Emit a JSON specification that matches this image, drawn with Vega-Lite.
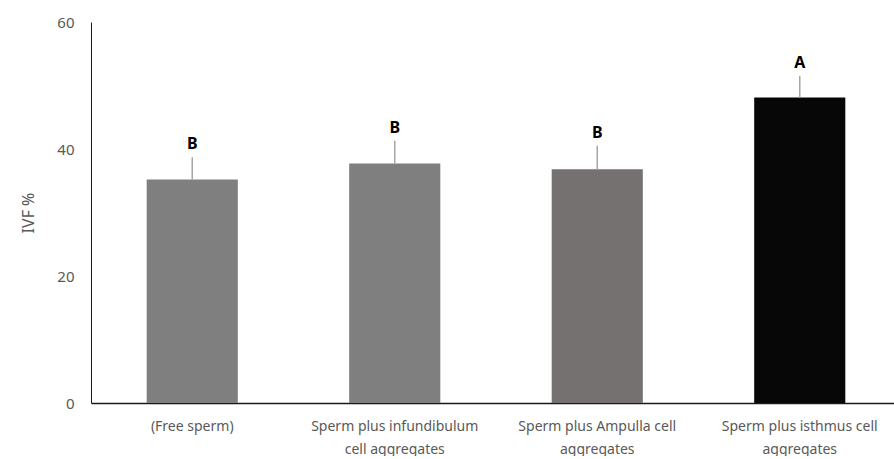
{
  "$schema": "https://vega.github.io/schema/vega-lite/v6.json",
  "width": 810,
  "height": 381,
  "padding": {"left": 20, "top": 15, "right": 0, "bottom": 0},
  "autosize": {"type": "pad"},
  "background": "white",
  "config": {
    "view": {"stroke": null},
    "font": "Noto Sans"
  },
  "data": {
    "values": [
      {"group": "(Free sperm)", "ivf": 35.2, "upper": 38.7, "letter": "B"},
      {"group": "Sperm plus infundibulum|cell aggregates", "ivf": 37.7, "upper": 41.3, "letter": "B"},
      {"group": "Sperm plus Ampulla cell|aggregates", "ivf": 36.8, "upper": 40.5, "letter": "B"},
      {"group": "Sperm plus isthmus cell|aggregates", "ivf": 48.1, "upper": 51.5, "letter": "A"}
    ]
  },
  "encoding": {
    "x": {
      "field": "group",
      "type": "nominal",
      "sort": null,
      "scale": {"paddingInner": 0.55, "paddingOuter": 0.275},
      "axis": {
        "title": null,
        "labelAngle": 0,
        "labelExpr": "split(datum.label, '|')",
        "labelFont": "Noto Sans",
        "labelFontSize": 14,
        "labelColor": "#595959",
        "labelPadding": 16,
        "labelLineHeight": 23,
        "labelBaseline": "top",
        "ticks": false,
        "domainColor": "#1a1a1a",
        "domainWidth": 1.5
      }
    }
  },
  "layer": [
    {
      "mark": {"type": "bar"},
      "encoding": {
        "y": {
          "field": "ivf",
          "type": "quantitative",
          "scale": {"domain": [0, 60]},
          "axis": {
            "title": "IVF %",
            "titleFont": "Noto Sans",
            "titleFontSize": 16,
            "titleFontWeight": "normal",
            "titleColor": "#595959",
            "titlePadding": 20,
            "values": [0, 20, 40, 60],
            "labelFont": "Noto Sans",
            "labelFontSize": 15,
            "labelColor": "#595959",
            "labelPadding": 17,
            "ticks": false,
            "grid": false,
            "domainColor": "#1a1a1a",
            "domainWidth": 1
          }
        },
        "color": {
          "field": "group",
          "type": "nominal",
          "legend": null,
          "scale": {
            "domain": ["(Free sperm)", "Sperm plus infundibulum|cell aggregates", "Sperm plus Ampulla cell|aggregates", "Sperm plus isthmus cell|aggregates"],
            "range": ["#7f7f7f", "#7f7f7f", "#767171", "#070707"]
          }
        }
      }
    },
    {
      "mark": {"type": "rule", "color": "#a6a6a6", "strokeWidth": 1.5},
      "encoding": {
        "y": {"field": "ivf", "type": "quantitative"},
        "y2": {"field": "upper"}
      }
    },
    {
      "mark": {"type": "text", "fontWeight": "bold", "fontSize": 16, "color": "#000000", "baseline": "alphabetic", "dy": -8, "font": "Noto Sans"},
      "encoding": {
        "y": {"field": "upper", "type": "quantitative"},
        "text": {"field": "letter"}
      }
    }
  ]
}
